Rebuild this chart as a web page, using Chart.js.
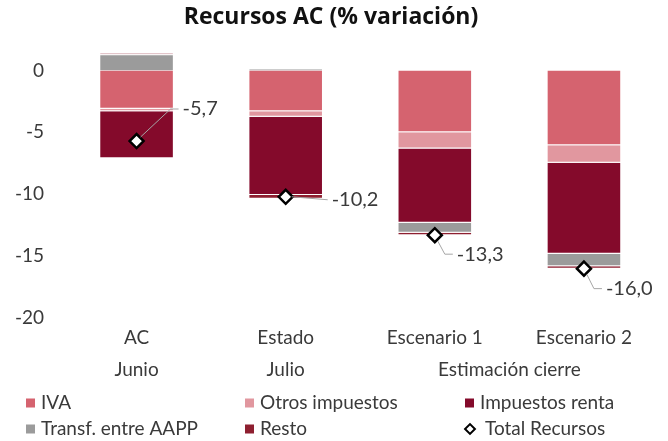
<!DOCTYPE html>
<html>
<head>
<meta charset="utf-8">
<style>
  html, body { margin: 0; padding: 0; background: #fff; }
  #wrap { width: 668px; height: 441px; }
</style>
</head>
<body>
<div id="wrap"><canvas id="chart"></canvas></div>
<script src="https://cdn.jsdelivr.net/npm/chart.js@4.4.1/dist/chart.umd.min.js"></script>
<script>
// data
const categories = ['AC', 'Estado', 'Escenario 1', 'Escenario 2'];
const groupLabels = ['Junio', 'Julio', 'Estimación cierre'];
const groupSpans = [[0, 0], [1, 1], [2, 3]];
const iva = [-3.1, -3.3, -5.0, -6.05];
const otros = [-0.2, -0.45, -1.3, -1.4];
const renta = [-3.8, -6.3, -6.0, -7.35];
const transf = [1.3, 0.15, -0.8, -1.0];
const resto = [0.1, -0.3, -0.2, -0.2];
const total = [-5.7, -10.2, -13.3, -16.0];
const yTicks = [0, -5, -10, -15, -20];

const FONT = 'Lato, "Open Sans", sans-serif';
const TXT = '#3a3a3a';

// where the value labels of the diamonds sit, relative to the marker
const labelOffsets = [[46, -32], [46, 3], [22, 19], [22, 20]];

const fmt = v => v.toFixed(1).replace('.', ',');

const totalLabels = {
  id: 'totalLabels',
  afterDatasetsDraw(chart) {
    const ctx = chart.ctx;
    const meta = chart.getDatasetMeta(5);
    ctx.save();
    ctx.font = '20px ' + FONT;
    ctx.fillStyle = TXT;
    ctx.textBaseline = 'middle';
    ctx.textAlign = 'left';
    meta.data.forEach((pt, i) => {
      const [dx, dy] = labelOffsets[i];
      const lx = pt.x + dx, ly = pt.y + dy;
      ctx.strokeStyle = '#a6a6a6';
      ctx.lineWidth = 1;
      ctx.beginPath();
      if (Math.abs(dy) > 10) {
        ctx.moveTo(pt.x + (dy < 0 ? 4 : 3), pt.y + (dy < 0 ? -4 : 6));
        ctx.lineTo(lx - 12, ly);
      } else {
        ctx.moveTo(pt.x + 6, pt.y);
      }
      ctx.lineTo(lx - 4, ly);
      ctx.stroke();
      ctx.fillText(fmt(total[i]), lx, ly);
    });
    ctx.restore();
  }
};

const groupAxis = {
  id: 'groupAxis',
  afterDraw(chart) {
    const ctx = chart.ctx;
    const x = chart.scales.x;
    ctx.save();
    ctx.font = '19px ' + FONT;
    ctx.fillStyle = TXT;
    ctx.textAlign = 'center';
    ctx.textBaseline = 'middle';
    groupLabels.forEach((g, i) => {
      const [a, b] = groupSpans[i];
      const cx = (x.getPixelForValue(a) + x.getPixelForValue(b)) / 2;
      ctx.fillText(g, cx, 370);
    });
    ctx.restore();
  }
};

const gridLegend = {
  id: 'gridLegend',
  afterDraw(chart) {
    const ctx = chart.ctx;
    const cols = [26, 245, 465];
    const rows = [403, 429];
    ctx.save();
    ctx.font = '19px ' + FONT;
    ctx.fillStyle = TXT;
    ctx.textBaseline = 'middle';
    chart.data.datasets.forEach((ds, i) => {
      const c = cols[i % 3], r = rows[Math.floor(i / 3)];
      if (ds.type === 'line') {
        ctx.save();
        ctx.translate(c + 5, r);
        ctx.rotate(Math.PI / 4);
        ctx.fillStyle = '#fff';
        ctx.strokeStyle = '#000';
        ctx.lineWidth = 2;
        ctx.fillRect(-3.5, -3.5, 7, 7);
        ctx.strokeRect(-3.5, -3.5, 7, 7);
        ctx.restore();
      } else {
        ctx.fillStyle = ds.backgroundColor;
        ctx.fillRect(c, r - 4.5, 9, 9);
      }
      ctx.fillStyle = TXT;
      ctx.fillText(ds.label, c + (ds.type === 'line' ? 20 : 15), r);
    });
    ctx.restore();
  }
};

const barDs = (label, data, color) => ({
  label, data, backgroundColor: color,
  borderColor: 'rgba(255,255,255,0.35)', borderWidth: 1,
  barPercentage: 0.5, categoryPercentage: 1, order: 1, stack: 'rec'
});

new Chart(document.getElementById('chart'), {
  type: 'bar',
  data: {
    labels: categories,
    datasets: [
      barDs('IVA', iva, '#d5636f'),
      barDs('Otros impuestos', otros, '#e1979f'),
      barDs('Impuestos renta', renta, '#840a2b'),
      barDs('Transf. entre AAPP', transf, '#9b9b9b'),
      barDs('Resto', resto, '#8e1f30'),
      {
        type: 'line', label: 'Total Recursos', data: total, stack: 'tot',
        showLine: false, order: 0,
        pointStyle: 'rectRot', pointRadius: 7, pointHoverRadius: 7,
        pointBackgroundColor: '#fff', pointBorderColor: '#000', pointBorderWidth: 2.5
      }
    ]
  },
  options: {
    responsive: true,
    maintainAspectRatio: false,
    animation: false,
    layout: { padding: { left: 0, right: 6, top: 0, bottom: 84 } },
    plugins: {
      legend: { display: false },
      tooltip: { enabled: false },
      title: {
        display: true,
        text: 'Recursos AC (% variación)',
        color: '#111',
        font: { family: '"Open Sans", sans-serif', size: 23, weight: 'bold' },
        padding: { top: 4, bottom: 14 }
      }
    },
    scales: {
      x: {
        stacked: true,
        grid: { display: false, drawTicks: false },
        border: { display: false },
        ticks: { color: TXT, font: { family: FONT, size: 19 }, padding: 8, maxRotation: 0 }
      },
      y: {
        stacked: true,
        min: -20, max: 2,
        grid: { display: false, drawTicks: false },
        border: { display: false },
        afterBuildTicks: s => { s.ticks = yTicks.map(v => ({ value: v })); },
        afterFit: s => { s.width = 62; },
        ticks: { color: TXT, font: { family: FONT, size: 19 }, padding: 18 }
      }
    }
  },
  plugins: [totalLabels, groupAxis, gridLegend]
});
</script>
</body>
</html>
